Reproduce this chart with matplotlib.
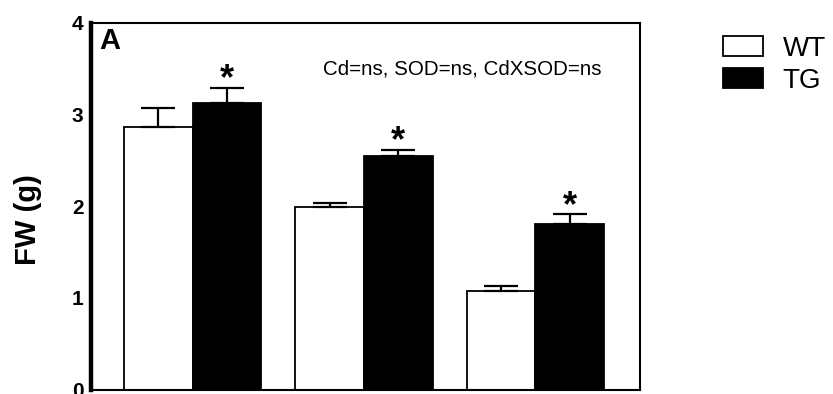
import matplotlib
matplotlib.use("Agg")
import matplotlib.pyplot as plt
import numpy as np

grupos = ["0", "1", "2"]
wt_media = [2.86, 1.99, 1.07]
wt_erro = [0.21, 0.05, 0.06]
tg_media = [3.13, 2.55, 1.81]
tg_erro = [0.16, 0.06, 0.10]
tg_signif = [True, True, True]
y_ticks = [0, 1, 2, 3, 4]
nota = "Cd=ns, SOD=ns, CdXSOD=ns"

plt.rcParams["font.family"] = ["Liberation Sans", "DejaVu Sans"]

fig = plt.figure(figsize=(8.33, 3.94), dpi=100)
W, H = 833, 394
ax = fig.add_axes([90.5 / W, 4.5 / H, (640 - 90.5) / W, (389.5 - 23) / H])

x = np.arange(len(grupos))
larg = 0.4

b_wt = ax.bar(x - larg / 2, wt_media, larg, color="white", edgecolor="black",
              linewidth=1.3, label="WT", zorder=2)
b_tg = ax.bar(x + larg / 2, tg_media, larg, color="black", edgecolor="black",
              linewidth=1.3, label="TG", zorder=2)

# barras de erro só para cima
ax.errorbar(x - larg / 2, wt_media, yerr=[np.zeros(3), wt_erro], fmt="none",
            ecolor="black", elinewidth=1.6, capsize=12, capthick=1.6, zorder=3)
ax.errorbar(x + larg / 2, tg_media, yerr=[np.zeros(3), tg_erro], fmt="none",
            ecolor="black", elinewidth=1.6, capsize=12, capthick=1.6, zorder=3)

for xi, m, e, s in zip(x, tg_media, tg_erro, tg_signif):
    if s:
        ax.text(xi + larg / 2, m + e + 0.09, "*", ha="center", va="center",
                fontsize=26, fontweight="bold")

ax.set_xlim(-0.595, 2.61)
ax.set_ylim(0, 4)
ax.set_yticks(y_ticks)
ax.set_yticklabels([str(t) for t in y_ticks], fontsize=15, fontweight="bold")
ax.set_xticks([])
ax.tick_params(axis="y", length=0, pad=5)

for lado in ["top", "right", "bottom"]:
    ax.spines[lado].set_linewidth(1.5)
ax.spines["left"].set_linewidth(3.2)

ax.text(0.016, 0.988, "A", transform=ax.transAxes, ha="left", va="top",
        fontsize=21, fontweight="bold")
ax.text((462 - 90.5) / 549.5, (389.5 - 69) / 366.5, nota, transform=ax.transAxes,
        ha="center", va="center", fontsize=14.8)

fig.text(28 / W, 1 - 220 / H, "FW (g)", rotation=90, ha="center", va="center",
         fontsize=21, fontweight="bold")

fig.legend(handles=[b_wt, b_tg], loc="upper left",
           bbox_to_anchor=(723 / W, 1 - 36 / H), frameon=False, fontsize=20,
           handlelength=1.45, handleheight=0.72, handletextpad=0.7,
           labelspacing=0.2, borderpad=0, borderaxespad=0)

fig.savefig("out.png", dpi=100)
